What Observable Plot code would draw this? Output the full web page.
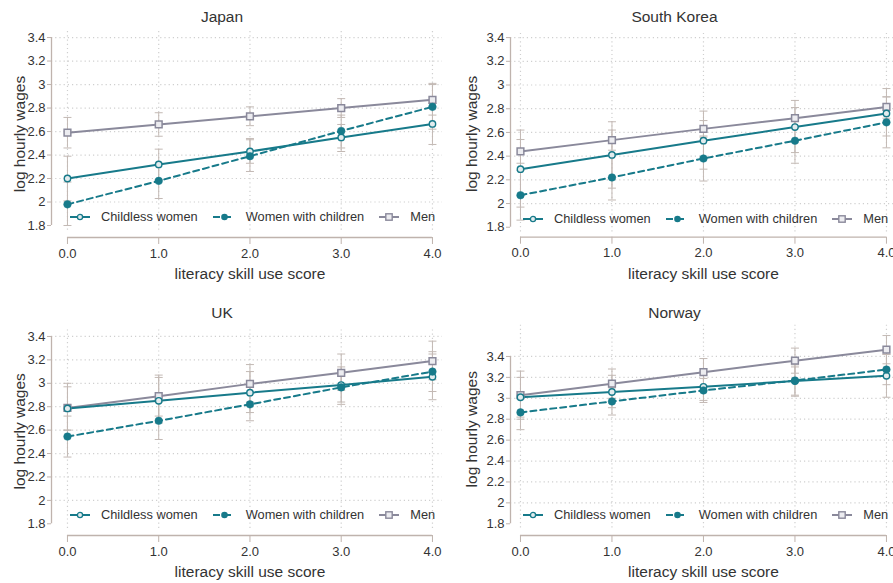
<!DOCTYPE html>
<html>
<head>
<meta charset="utf-8">
<script src="https://cdn.jsdelivr.net/npm/d3@7"></script>
<script src="https://cdn.jsdelivr.net/npm/@observablehq/plot@0.6"></script>
<style>
html, body { margin: 0; padding: 0; background: #fff; overflow: hidden; width: 893px; height: 583px; }
body { position: relative; font-family: "Liberation Sans", Arial, sans-serif; color: #333; }
.panel { position: absolute; overflow: visible; }
.ptitle { position: absolute; text-align: center; font-size: 15.5px; line-height: 18px; color: #333; }
.legend { position: absolute; display: flex; align-items: center; font-size: 12.8px; line-height: 14px; color: #333; white-space: nowrap; }
.legend svg { display: block; overflow: visible; }
</style>
</head>
<body>
<script>
// ---------- data ----------
const xTicks = [0, 1, 2, 3, 4];
const yTicks = [1.8, 2, 2.2, 2.4, 2.6, 2.8, 3, 3.2, 3.4];
const gridTicks = [2, 2.2, 2.4, 2.6, 2.8, 3, 3.2, 3.4];
const countries = ["Japan", "South Korea", "UK", "Norway"];
const groups = ["Childless women", "Women with children", "Men"];
const xLabel = "literacy skill use score";
const yLabel = "log hourly wages";

// Japan
const japanChildless   = [2.20, 2.32, 2.43, 2.55, 2.665];
const japanChildlessLo = [2.01, 2.19, 2.33, 2.43, 2.49];
const japanChildlessHi = [2.39, 2.45, 2.54, 2.66, 2.84];
const japanMothers     = [1.98, 2.18, 2.39, 2.605, 2.81];
const japanMothersLo   = [1.80, 2.03, 2.26, 2.46, 2.62];
const japanMothersHi   = [2.17, 2.33, 2.53, 2.74, 3.00];
const japanMen         = [2.59, 2.66, 2.73, 2.80, 2.87];
const japanMenLo       = [2.46, 2.56, 2.65, 2.72, 2.74];
const japanMenHi       = [2.72, 2.76, 2.81, 2.88, 3.01];

// South Korea
const koreaChildless   = [2.29, 2.41, 2.53, 2.645, 2.76];
const koreaChildlessLo = [1.97, 2.13, 2.29, 2.43, 2.57];
const koreaChildlessHi = [2.62, 2.69, 2.78, 2.87, 2.97];
const koreaMothers     = [2.07, 2.22, 2.38, 2.53, 2.685];
const koreaMothersLo   = [1.86, 2.03, 2.19, 2.34, 2.47];
const koreaMothersHi   = [2.28, 2.42, 2.57, 2.72, 2.90];
const koreaMen         = [2.44, 2.535, 2.63, 2.72, 2.815];
const koreaMenLo       = [2.34, 2.45, 2.56, 2.64, 2.72];
const koreaMenHi       = [2.54, 2.62, 2.70, 2.81, 2.90];

// UK
const ukChildless   = [2.785, 2.85, 2.92, 2.985, 3.055];
const ukChildlessLo = [2.60, 2.66, 2.75, 2.84, 2.86];
const ukChildlessHi = [2.97, 3.05, 3.10, 3.14, 3.25];
const ukMothers     = [2.545, 2.68, 2.82, 2.965, 3.10];
const ukMothersLo   = [2.37, 2.52, 2.68, 2.82, 2.93];
const ukMothersHi   = [2.72, 2.84, 2.97, 3.11, 3.27];
const ukMen         = [2.79, 2.89, 2.995, 3.09, 3.19];
const ukMenLo       = [2.60, 2.72, 2.84, 2.94, 3.03];
const ukMenHi       = [3.00, 3.07, 3.16, 3.25, 3.36];

// Norway
const norwayChildless   = [3.01, 3.06, 3.11, 3.165, 3.215];
const norwayChildlessLo = [2.82, 2.91, 2.98, 3.03, 3.01];
const norwayChildlessHi = [3.20, 3.22, 3.25, 3.30, 3.42];
const norwayMothers     = [2.865, 2.97, 3.075, 3.17, 3.275];
const norwayMothersLo   = [2.70, 2.84, 2.96, 3.02, 3.13];
const norwayMothersHi   = [3.03, 3.10, 3.19, 3.32, 3.42];
const norwayMen         = [3.03, 3.14, 3.25, 3.36, 3.465];
const norwayMenLo       = [2.80, 3.00, 3.12, 3.24, 3.33];
const norwayMenHi       = [3.26, 3.28, 3.38, 3.48, 3.60];

const series = {
  "Japan":       [[japanChildless, japanChildlessLo, japanChildlessHi], [japanMothers, japanMothersLo, japanMothersHi], [japanMen, japanMenLo, japanMenHi]],
  "South Korea": [[koreaChildless, koreaChildlessLo, koreaChildlessHi], [koreaMothers, koreaMothersLo, koreaMothersHi], [koreaMen, koreaMenLo, koreaMenHi]],
  "UK":          [[ukChildless, ukChildlessLo, ukChildlessHi], [ukMothers, ukMothersLo, ukMothersHi], [ukMen, ukMenLo, ukMenHi]],
  "Norway":      [[norwayChildless, norwayChildlessLo, norwayChildlessHi], [norwayMothers, norwayMothersLo, norwayMothersHi], [norwayMen, norwayMenLo, norwayMenHi]]
};

// ---------- styles / layout ----------
const FONT = '"Liberation Sans", Arial, sans-serif';
const TEAL = "#177a8a";
const MEN = "#8a899b";
const ERR = "#c3b9b4";
const AXIS = "#bfb3ad";
const GRID = "#cfcfcf";
const colors = [TEAL, TEAL, MEN];
const dashes = [null, "6,4", null];

const layouts = {
  "Japan":       {left: 0,   top: 0,   width: 446, height: 290, ml: 51, mr: 4, mt: 30,   mb: 53, xd: [-0.175, 4.11], yd: [1.698, 3.46], ylab: 31.7, titleX: 222,   titleY: 17},
  "South Korea": {left: 443, top: 0,   width: 450, height: 290, ml: 67, mr: 0, mt: 30,   mb: 53.3, xd: [-0.109, 4.077], yd: [1.716, 3.46], ylab: 38.2, titleX: 231.5, titleY: 17},
  "UK":          {left: 0,   top: 290, width: 446, height: 293, ml: 51, mr: 4, mt: 36.6, mb: 48, xd: [-0.175, 4.11], yd: [1.7, 3.48], ylab: 31.7, titleX: 222,   titleY: 23},
  "Norway":      {left: 443, top: 290, width: 450, height: 293, ml: 67, mr: 0, mt: 32.5, mb: 48, xd: [-0.109, 4.077], yd: [1.688, 3.72], ylab: 38.5, titleX: 231.5, titleY: 23}
};

const capSymbol = {
  draw(context, size) {
    const r = Math.sqrt(size / Math.PI);
    context.moveTo(-r, 0);
    context.lineTo(r, 0);
  }
};

function makePanel(country) {
  const L = layouts[country];
  const rows = groups.flatMap((g, gi) => xTicks.map((x, i) => ({
    group: g, gi, x,
    y: series[country][gi][0][i],
    lo: series[country][gi][1][i],
    hi: series[country][gi][2][i]
  })));
  const byGroup = gi => rows.filter(d => d.gi === gi);

  const lineMarks = [2, 0, 1].map(gi => Plot.line(byGroup(gi), {
    x: "x", y: "y", stroke: colors[gi], strokeWidth: 2, strokeDasharray: dashes[gi]
  }));

  const plot = Plot.plot({
    width: L.width, height: L.height,
    marginLeft: L.ml, marginRight: L.mr, marginTop: L.mt, marginBottom: L.mb,
    style: {background: "transparent", overflow: "visible", fontFamily: FONT, fontSize: "13px", color: "#333"},
    x: {domain: L.xd},
    y: {domain: L.yd},
    marks: [
      Plot.ruleY(gridTicks, {stroke: GRID, strokeDasharray: "1.2,3", strokeWidth: 1.2}),
      Plot.ruleX(xTicks, {y1: 1.76, y2: L.yd[1], stroke: GRID, strokeDasharray: "1.2,3", strokeWidth: 1.2}),
      Plot.ruleX([L.xd[0]], {y1: yTicks[0], y2: yTicks[yTicks.length - 1], stroke: AXIS, strokeWidth: 1.3}),
      Plot.ruleY([L.yd[0]], {x1: xTicks[0], x2: xTicks[xTicks.length - 1], stroke: AXIS, strokeWidth: 1.3}),
      Plot.axisY({ticks: yTicks, tickSize: 4, tickPadding: 2, tickFormat: d => String(d), stroke: AXIS, label: null, fontSize: 13}),
      Plot.axisX({ticks: xTicks, tickSize: 7, tickPadding: 4, tickFormat: d => d.toFixed(1), stroke: AXIS, label: null, fontSize: 13}),
      Plot.text([xLabel], {x: [d3.mean(xTicks)], text: d => d, frameAnchor: "bottom", dy: 37, fontSize: 15.5, lineAnchor: "middle", textAnchor: "middle", fill: "#333"}),
      Plot.text([yLabel], {y: [d3.mean(L.yd)], text: d => d, frameAnchor: "left", dx: -L.ylab, rotate: -90, fontSize: 15.5, lineAnchor: "middle", textAnchor: "middle", fill: "#333"}),
      // error bars
      Plot.ruleX(rows, {x: "x", y1: "lo", y2: "hi", stroke: ERR, strokeWidth: 1}),
      Plot.dot(rows, {x: "x", y: "lo", symbol: capSymbol, r: 4, stroke: ERR, strokeWidth: 1, fill: "none"}),
      Plot.dot(rows, {x: "x", y: "hi", symbol: capSymbol, r: 4, stroke: ERR, strokeWidth: 1, fill: "none"}),
      // lines
      ...lineMarks,
      // markers
      Plot.dot(byGroup(2), {x: "x", y: "y", symbol: "square", r: 3.8, stroke: MEN, strokeWidth: 1.5, fill: "#ececf0"}),
      Plot.dot(byGroup(0), {x: "x", y: "y", symbol: "circle", r: 3.2, stroke: TEAL, strokeWidth: 1.4, fill: "#e3ecee"}),
      Plot.dot(byGroup(1), {x: "x", y: "y", symbol: "circle", r: 3.8, fill: TEAL, stroke: TEAL, strokeWidth: 0.5})
    ]
  });

  const wrap = document.createElement("div");
  wrap.className = "panel";
  wrap.style.left = L.left + "px";
  wrap.style.top = L.top + "px";
  wrap.style.width = L.width + "px";
  wrap.style.height = L.height + "px";
  wrap.appendChild(plot);
  document.body.appendChild(wrap);

  // title
  const t = document.createElement("div");
  t.className = "ptitle";
  t.textContent = country;
  t.style.left = (L.left + L.titleX - 100) + "px";
  t.style.width = "200px";
  t.style.top = (L.top + L.titleY - 9) + "px";
  document.body.appendChild(t);

  // legend (positioned through the plot's scales)
  const sx = plot.scale("x"), sy = plot.scale("y");
  const lg = document.createElement("div");
  lg.className = "legend";
  lg.style.left = (L.left + sx.apply(xTicks[0]) + 3) + "px";
  lg.style.top = (L.top + sy.apply(yTicks[0]) - 8 - 7) + "px";
  lg.style.height = "14px";
  const symbols = [
    `<svg width="20" height="10"><line x1="0" y1="5" x2="20" y2="5" stroke="${TEAL}" stroke-width="2"/><circle cx="10" cy="5" r="2.6" fill="#e3ecee" stroke="${TEAL}" stroke-width="1.3"/></svg>`,
    `<svg width="22" height="10"><line x1="0" y1="5" x2="22" y2="5" stroke="${TEAL}" stroke-width="2" stroke-dasharray="7,4"/><circle cx="11.5" cy="5" r="3.3" fill="${TEAL}"/></svg>`,
    `<svg width="20" height="10"><line x1="0" y1="5" x2="20" y2="5" stroke="${MEN}" stroke-width="2"/><rect x="6.8" y="1.8" width="6.4" height="6.4" fill="#ececf0" stroke="${MEN}" stroke-width="1.4"/></svg>`
  ];
  groups.forEach((g, gi) => {
    const s = document.createElement("span");
    s.innerHTML = symbols[gi];
    s.style.marginRight = "11px";
    const tx = document.createElement("span");
    tx.textContent = g;
    tx.style.marginRight = gi < groups.length - 1 ? "15px" : "0";
    lg.appendChild(s);
    lg.appendChild(tx);
  });
  document.body.appendChild(lg);
}

countries.forEach(makePanel);
</script>
</body>
</html>
